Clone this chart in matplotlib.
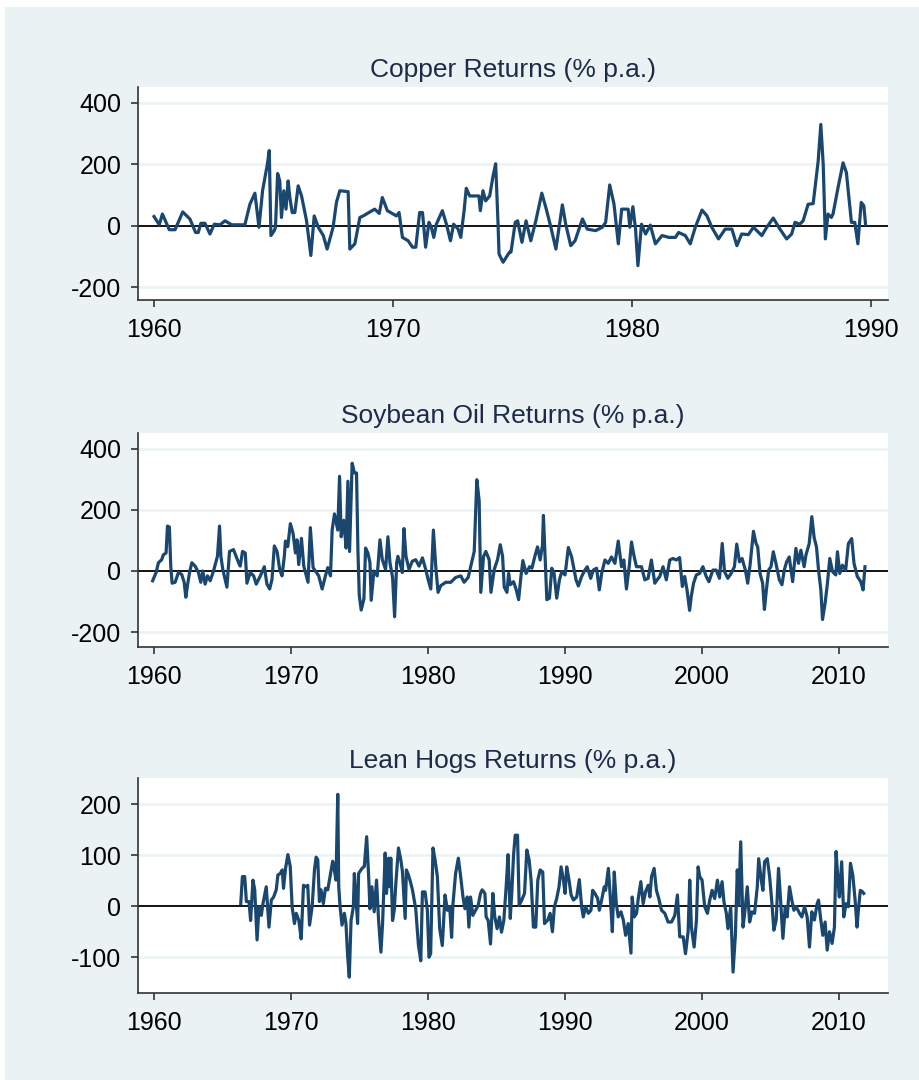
import numpy as np
import matplotlib
matplotlib.use("Agg")
import matplotlib.pyplot as plt
from matplotlib.patches import Rectangle

# ---- Copper returns (% p.a.) ----
copper_year = [1960.00, 1960.22, 1960.35, 1960.64, 1960.88, 1961.20, 1961.50, 1961.74, 1961.85, 1961.96,
               1962.13, 1962.34, 1962.52, 1962.76, 1962.97, 1963.25, 1963.80, 1964.01, 1964.22, 1964.39,
               1964.54, 1964.64, 1964.74, 1964.82, 1964.89, 1965.03, 1965.08, 1965.17, 1965.26, 1965.33,
               1965.43, 1965.52, 1965.61, 1965.68, 1965.78, 1965.89, 1966.03, 1966.17, 1966.38, 1966.56,
               1966.70, 1966.87, 1967.08, 1967.24, 1967.49, 1967.63, 1967.77, 1968.12, 1968.19, 1968.40,
               1968.61, 1968.75, 1969.03, 1969.23, 1969.42, 1969.55, 1969.76, 1970.00, 1970.14, 1970.25,
               1970.39, 1970.63, 1970.81, 1970.95, 1971.11, 1971.23, 1971.36, 1971.50, 1971.60, 1971.70,
               1971.81, 1972.06, 1972.23, 1972.40, 1972.53, 1972.72, 1972.83, 1972.97, 1973.06, 1973.20,
               1973.41, 1973.59, 1973.65, 1973.76, 1973.87, 1974.04, 1974.18, 1974.29, 1974.39, 1974.43,
               1974.60, 1974.87, 1974.93, 1975.11, 1975.21, 1975.39, 1975.56, 1975.76, 1975.97, 1976.22,
               1976.39, 1976.60, 1976.81, 1977.08, 1977.22, 1977.43, 1977.61, 1977.92, 1978.12, 1978.47,
               1978.75, 1978.89, 1979.06, 1979.24, 1979.42, 1979.56, 1979.83, 1979.90, 1980.03, 1980.14,
               1980.24, 1980.39, 1980.56, 1980.76, 1980.97, 1981.25, 1981.53, 1981.81, 1981.94, 1982.22,
               1982.43, 1982.64, 1982.92, 1983.13, 1983.33, 1983.61, 1983.89, 1984.17, 1984.38, 1984.58,
               1984.86, 1985.07, 1985.42, 1985.63, 1985.90, 1986.18, 1986.46, 1986.67, 1986.81, 1987.01,
               1987.15, 1987.36, 1987.57, 1987.78, 1987.89, 1987.99, 1988.08, 1988.19, 1988.33, 1988.40,
               1988.61, 1988.82, 1988.96, 1989.17, 1989.31, 1989.44, 1989.58, 1989.69, 1989.76]
copper_ret = [30, 3, 38, -13, -13, 45, 22, -22, -22, 8,
              8, -27, 5, 3, 16, 3, 3, 70, 106, -5,
              114, 157, 200, 245, -32, -16, -5, 170, 146, 27,
              114, 54, 146, 92, 43, 43, 130, 97, 16, -97,
              32, -5, -32, -76, -5, 76, 114, 111, -76, -59,
              27, 32, 45, 54, 40, 92, 49, 38, 32, 43,
              -38, -49, -70, -70, 43, 43, -70, 11, -5, -38,
              5, 49, 5, -49, 5, -11, -38, 49, 122, 97,
              97, 97, 49, 114, 81, 97, 162, 202, 5, -92,
              -119, -86, -86, 11, 16, -54, 16, -49, 16, 106,
              59, -5, -76, 68, 5, -65, -49, 22, -11, -16,
              -5, 11, 133, 70, -59, 54, 54, -5, 62, -11,
              -130, 5, -27, 2, -59, -32, -38, -38, -22, -32,
              -59, -5, 51, 32, -5, -43, -11, -11, -65, -27,
              -29, -5, -32, -5, 25, -11, -43, -27, 11, 5,
              16, 70, 72, 211, 330, 200, -43, 38, 27, 38,
              124, 205, 173, 11, 11, -59, 76, 65, 5]

# ---- Soybean oil returns (% p.a.) ----
soy_year = [1959.90, 1960.15, 1960.32, 1960.56, 1960.68, 1960.88, 1960.98, 1961.12, 1961.22, 1961.32,
            1961.54, 1961.78, 1962.02, 1962.20, 1962.32, 1962.44, 1962.59, 1962.76, 1963.00, 1963.24,
            1963.41, 1963.56, 1963.73, 1963.90, 1964.10, 1964.34, 1964.63, 1964.78, 1964.88, 1965.02,
            1965.32, 1965.51, 1965.80, 1966.17, 1966.29, 1966.46, 1966.66, 1966.78, 1967.02, 1967.27,
            1967.46, 1967.76, 1968.05, 1968.24, 1968.44, 1968.61, 1968.78, 1968.98, 1969.17, 1969.34,
            1969.51, 1969.59, 1969.76, 1969.95, 1970.15, 1970.32, 1970.44, 1970.56, 1970.76, 1970.93,
            1971.12, 1971.24, 1971.41, 1971.61, 1971.78, 1972.02, 1972.27, 1972.51, 1972.68, 1972.88,
            1973.00, 1973.17, 1973.41, 1973.54, 1973.66, 1973.85, 1974.02, 1974.15, 1974.27, 1974.46,
            1974.63, 1974.78, 1974.88, 1974.98, 1975.12, 1975.32, 1975.44, 1975.61, 1975.76, 1975.85,
            1976.05, 1976.29, 1976.49, 1976.66, 1976.90, 1977.07, 1977.22, 1977.41, 1977.56, 1977.71,
            1977.80, 1977.95, 1978.12, 1978.24, 1978.39, 1978.61, 1978.85, 1979.10, 1979.34, 1979.59,
            1979.83, 1980.00, 1980.20, 1980.39, 1980.56, 1980.73, 1980.93, 1981.29, 1981.66, 1982.02,
            1982.39, 1982.63, 1982.93, 1983.12, 1983.37, 1983.56, 1983.73, 1983.85, 1984.05, 1984.22,
            1984.46, 1984.59, 1984.83, 1985.07, 1985.27, 1985.44, 1985.56, 1985.76, 1985.88, 1986.00,
            1986.24, 1986.44, 1986.61, 1986.78, 1986.92, 1987.16, 1987.41, 1987.58, 1987.82, 1987.99,
            1988.18, 1988.35, 1988.42, 1988.55, 1988.67, 1988.86, 1989.03, 1989.20, 1989.39, 1989.59,
            1989.76, 1990.00, 1990.24, 1990.48, 1990.80, 1990.97, 1991.21, 1991.45, 1991.62, 1991.87,
            1992.06, 1992.30, 1992.50, 1992.67, 1992.91, 1993.15, 1993.39, 1993.64, 1993.88, 1994.12,
            1994.29, 1994.48, 1994.68, 1994.85, 1995.02, 1995.21, 1995.58, 1995.82, 1996.06, 1996.30,
            1996.55, 1996.72, 1996.91, 1997.15, 1997.39, 1997.64, 1997.88, 1998.12, 1998.36, 1998.56,
            1998.73, 1998.90, 1999.09, 1999.21, 1999.38, 1999.58, 1999.82, 2000.06, 2000.30, 2000.50,
            2000.79, 2001.03, 2001.27, 2001.47, 2001.64, 2001.88, 2002.12, 2002.36, 2002.53, 2002.73,
            2002.92, 2003.16, 2003.33, 2003.50, 2003.75, 2003.94, 2004.06, 2004.23, 2004.42, 2004.55,
            2004.67, 2004.86, 2005.03, 2005.20, 2005.39, 2005.64, 2005.83, 2006.00, 2006.17, 2006.36,
            2006.61, 2006.85, 2007.04, 2007.21, 2007.45, 2007.58, 2007.82, 2008.01, 2008.18, 2008.35,
            2008.50, 2008.67, 2008.79, 2008.98, 2009.15, 2009.32, 2009.52, 2009.76, 2009.88, 2010.05,
            2010.24, 2010.48, 2010.68, 2010.92, 2011.09, 2011.33, 2011.58, 2011.75, 2011.89]
soy_ret = [-32, -5, 27, 37, 53, 59, 147, 144, 16, -40,
           -37, -5, -11, -37, -86, -48, -5, 27, 16, -5,
           -37, 0, -43, -16, -32, 0, 48, 147, 48, 5,
           -53, 64, 70, 27, 16, 64, 59, -40, -5, -16,
           -43, -16, 14, -43, -59, -27, 82, 64, 5, -16,
           48, 98, 80, 155, 123, 59, 102, 21, 107, 16,
           -16, -37, 142, 11, 0, -16, -59, -16, 11, -16,
           134, 187, 134, 310, 112, 166, 75, 294, 64, 353,
           321, 321, 70, -80, -128, -91, 75, 59, 27, -96,
           0, -16, 102, 37, 5, 112, 27, -21, -150, 27,
           48, 27, -5, 139, 48, 5, 32, 37, 16, 43,
           5, -27, -59, 134, 16, -70, -48, -37, -37, -21,
           -16, -37, -21, 16, 64, 299, 230, -70, 48, 64,
           37, -70, 5, 37, 86, 48, -53, -70, -8, -45,
           -35, -62, -94, -18, 34, -8, 14, 9, 52, 79,
           36, 84, 182, 36, -94, -89, 9, -8, -89, -29,
           -2, -13, 77, 46, -29, -49, -18, 3, 14, -24,
           3, 9, -62, -8, 36, 25, 46, 25, 98, 14,
           36, -59, 14, 95, 52, 14, 14, -29, -24, 36,
           -40, -29, -18, 14, -29, 36, 41, 36, 44, -51,
           -18, -62, -129, -83, -40, -13, -8, 14, -18, -35,
           3, 3, -24, 90, -2, -24, -8, 14, 88, 30,
           41, 3, -40, 19, 130, 90, 79, -8, -40, -126,
           -72, 3, 14, 63, 25, -29, -45, 3, 30, 46,
           -35, 74, 25, 68, 14, 52, 90, 178, 109, 79,
           3, -62, -159, -105, -40, 41, -2, -13, 63, -8,
           19, 3, 90, 106, 25, -18, -35, -62, 14]

# ---- Lean hogs returns (% p.a.) ----
hogs_year = [1966.33, 1966.45, 1966.62, 1966.74, 1966.93, 1967.05, 1967.22, 1967.35, 1967.52, 1967.66,
             1967.83, 1967.95, 1968.19, 1968.39, 1968.56, 1968.73, 1968.92, 1969.04, 1969.21, 1969.36,
             1969.45, 1969.60, 1969.77, 1969.94, 1970.08, 1970.25, 1970.38, 1970.57, 1970.74, 1970.91,
             1971.10, 1971.22, 1971.35, 1971.54, 1971.71, 1971.83, 1971.95, 1972.07, 1972.19, 1972.36,
             1972.51, 1972.68, 1972.85, 1973.04, 1973.16, 1973.28, 1973.41, 1973.48, 1973.58, 1973.72,
             1973.89, 1974.01, 1974.13, 1974.25, 1974.38, 1974.55, 1974.62, 1974.86, 1974.93, 1975.18,
             1975.35, 1975.52, 1975.66, 1975.76, 1975.90, 1976.07, 1976.24, 1976.39, 1976.56, 1976.68,
             1976.87, 1976.97, 1977.12, 1977.21, 1977.28, 1977.41, 1977.53, 1977.65, 1977.84, 1978.01,
             1978.13, 1978.33, 1978.42, 1978.57, 1978.74, 1978.86, 1979.10, 1979.30, 1979.47, 1979.59,
             1979.78, 1979.95, 1980.07, 1980.19, 1980.36, 1980.51, 1980.68, 1980.85, 1981.04, 1981.24,
             1981.41, 1981.58, 1981.72, 1981.82, 1982.01, 1982.21, 1982.38, 1982.55, 1982.69, 1982.86,
             1982.98, 1983.10, 1983.27, 1983.47, 1983.66, 1983.83, 1983.95, 1984.15, 1984.24, 1984.39,
             1984.56, 1984.73, 1984.87, 1985.04, 1985.21, 1985.36, 1985.53, 1985.70, 1985.84, 1986.00,
             1986.12, 1986.24, 1986.36, 1986.53, 1986.65, 1986.84, 1987.04, 1987.21, 1987.38, 1987.52,
             1987.69, 1987.86, 1988.01, 1988.18, 1988.37, 1988.50, 1988.74, 1988.91, 1989.08, 1989.22,
             1989.39, 1989.56, 1989.71, 1989.88, 1990.00, 1990.12, 1990.29, 1990.44, 1990.61, 1990.85,
             1991.04, 1991.21, 1991.33, 1991.50, 1991.70, 1991.89, 1992.01, 1992.18, 1992.38, 1992.50,
             1992.67, 1992.86, 1992.96, 1993.16, 1993.30, 1993.45, 1993.59, 1993.74, 1993.88, 1994.08,
             1994.25, 1994.42, 1994.61, 1994.81, 1994.90, 1995.05, 1995.22, 1995.34, 1995.53, 1995.70,
             1995.87, 1996.07, 1996.19, 1996.31, 1996.50, 1996.67, 1996.84, 1997.04, 1997.28, 1997.52,
             1997.77, 1998.01, 1998.20, 1998.37, 1998.62, 1998.79, 1998.98, 1999.10, 1999.22, 1999.42,
             1999.59, 1999.71, 1999.83, 2000.00, 2000.19, 2000.39, 2000.56, 2000.73, 2000.92, 2001.12,
             2001.29, 2001.46, 2001.60, 2001.77, 2001.89, 2002.09, 2002.26, 2002.43, 2002.57, 2002.67,
             2002.82, 2002.99, 2003.16, 2003.30, 2003.47, 2003.64, 2003.83, 2004.03, 2004.13, 2004.32,
             2004.44, 2004.56, 2004.76, 2004.93, 2005.10, 2005.24, 2005.41, 2005.58, 2005.73, 2005.90,
             2006.07, 2006.21, 2006.38, 2006.55, 2006.70, 2006.87, 2007.11, 2007.28, 2007.48, 2007.67,
             2007.84, 2008.01, 2008.20, 2008.40, 2008.50, 2008.64, 2008.81, 2008.98, 2009.13, 2009.30,
             2009.49, 2009.66, 2009.78, 2009.90, 2010.02, 2010.19, 2010.34, 2010.51, 2010.68, 2010.83,
             2011.00, 2011.17, 2011.31, 2011.43, 2011.55, 2011.72, 2011.80]
hogs_ret = [5, 58, 58, 9, 9, -28, 51, 32, -66, -1,
            -18, 5, 38, -41, 12, 18, 32, 61, 64, 71,
            35, 74, 101, 78, -1, -34, -14, -28, -64, 41,
            38, 41, -37, -1, 71, 96, 91, 9, 32, 5,
            35, 32, 58, 88, 71, 51, 219, 38, -1, -37,
            -14, -34, -97, -139, -28, -1, 64, -34, 64, 74,
            78, 136, 61, -5, 38, -11, 51, -28, -90, -34,
            104, 25, 94, 38, 94, -28, -8, 45, 114, 91,
            68, -24, 71, 61, 45, 32, -5, -77, -107, 28,
            28, -8, -100, -93, 114, 91, 58, -44, -77, 22,
            -8, -1, -61, 5, 64, 94, 58, 18, -5, 18,
            -41, 18, -18, -8, 2, 25, 32, 25, -21, -28,
            -74, 25, -21, -44, -21, -51, -28, 38, 101, -24,
            31, 100, 139, 139, 2, 12, 25, 110, 90, 51,
            -41, -41, 51, 71, 67, -34, -27, -14, -50, -1,
            15, 38, 77, 51, 25, 77, 51, 22, 12, 18,
            52, -1, -21, -1, -14, -8, 31, 25, 15, -8,
            12, 38, 31, 74, 18, -50, 67, 5, -21, -11,
            -27, -57, -34, -92, 18, -21, -14, 15, 48, 5,
            28, 41, 18, 58, 74, 31, 15, -8, -14, -31,
            -31, -18, 22, -60, -60, -93, -50, 51, -41, -80,
            -27, 77, 58, 51, -1, -14, 12, 31, 15, 51,
            18, 48, 8, -14, -44, -1, -129, -57, 71, 2,
            126, -41, -1, 38, -31, -11, -14, 38, 93, 51,
            31, 87, 93, 58, 5, -47, -27, 74, 12, -63,
            -1, -21, 38, 12, -8, -1, -14, -21, -1, -21,
            -80, -11, -27, 5, 12, -21, -57, -31, -86, -50,
            -73, -41, 107, 58, 18, 87, -21, 5, -1, 84,
            61, 12, -41, -1, 31, 28, 25]

titles = ["Copper Returns (% p.a.)", "Soybean Oil Returns (% p.a.)", "Lean Hogs Returns (% p.a.)"]
series = [(copper_year, copper_ret), (soy_year, soy_ret), (hogs_year, hogs_ret)]
yticks = [[-200, 0, 200, 400], [-200, 0, 200, 400], [-100, 0, 100, 200]]
ylims = [(-242, 452), (-249, 452), (-170, 251)]
xlims = [(1959.33, 1990.7), (1958.83, 2013.57), (1958.83, 2013.57)]
xticks = [[1960, 1970, 1980, 1990], [1960, 1970, 1980, 1990, 2000, 2010], [1960, 1970, 1980, 1990, 2000, 2010]]

bg = "#eaf2f3"
navy = "#1a476f"

plt.rcParams["font.family"] = ["Liberation Sans", "DejaVu Sans"]
fig = plt.figure(figsize=(9.2, 10.8), dpi=100, facecolor="white")
fig.patches.append(Rectangle((5 / 920, 0), 1, 1 - 7 / 1080, transform=fig.transFigure,
                             facecolor=bg, edgecolor="none", zorder=-10))

# axes boxes in pixels: (top, bottom)
boxes = [(87, 300), (433, 647), (778, 993)]
left, right = 138, 888
for i, (top, bot) in enumerate(boxes):
    ax = fig.add_axes([left / 920, 1 - bot / 1080, (right - left) / 920, (bot - top) / 1080])
    ax.set_facecolor("white")
    yr, val = series[i]
    for g in yticks[i]:
        if g != 0:
            ax.axhline(g, color=bg, lw=1.8, zorder=1)
    ax.axhline(0, color="black", lw=1.3, zorder=2)
    ax.plot(yr, val, color=navy, lw=2.3, zorder=3)
    ax.set_xlim(*xlims[i])
    ax.set_ylim(*ylims[i])
    ax.set_yticks(yticks[i])
    ax.set_xticks(xticks[i])
    ax.set_yticklabels([str(t) for t in yticks[i]])
    for s in ["top", "right"]:
        ax.spines[s].set_visible(False)
    for s in ["left", "bottom"]:
        ax.spines[s].set_color("#333333")
        ax.spines[s].set_linewidth(1.2)
    ax.tick_params(axis="both", labelsize=18, colors="#333333", labelcolor="black",
                   length=5, width=1.2, direction="out")
    ax.tick_params(axis="y", pad=7)
    ax.tick_params(axis="x", pad=8)
    ax.set_title(titles[i], fontsize=19, color="#1e2a4a", pad=7)

fig.savefig("out.png", dpi=100, facecolor="white")
